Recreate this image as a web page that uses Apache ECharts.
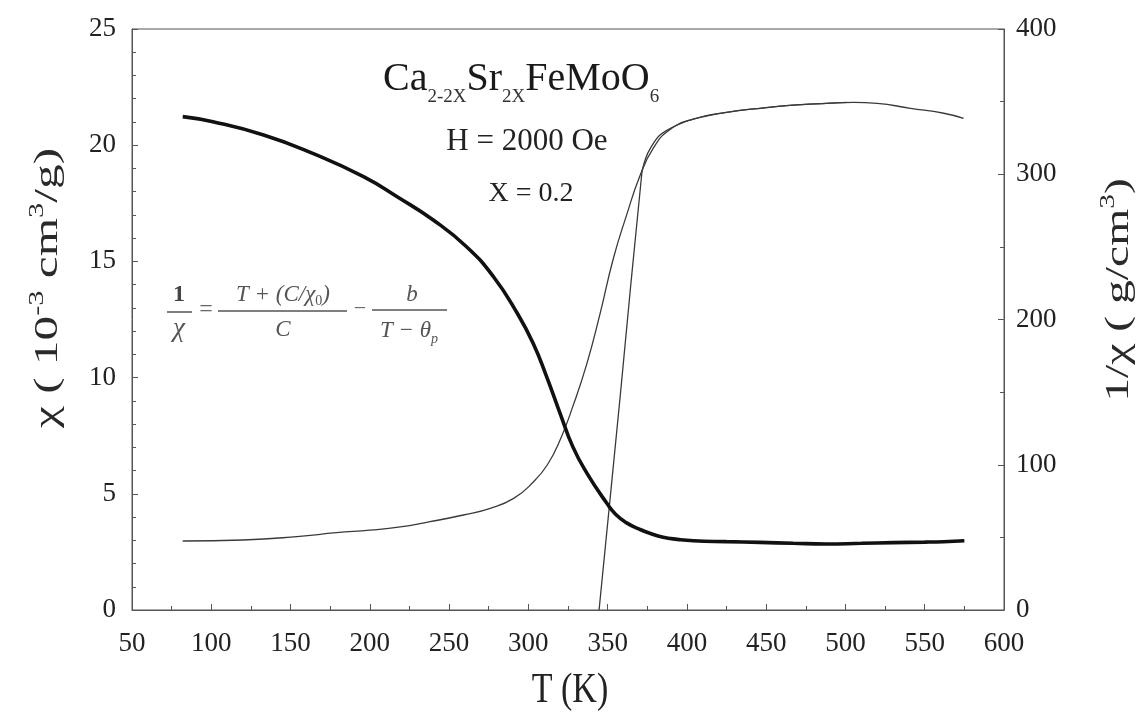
<!DOCTYPE html>
<html>
<head>
<meta charset="utf-8">
<title>Ca2-2XSr2XFeMoO6 susceptibility</title>
<script src="https://cdn.jsdelivr.net/npm/echarts@6/dist/echarts.min.js"></script>
<style>
  html, body { margin: 0; padding: 0; background: #ffffff; }
  #chart { width: 1143px; height: 721px; }
</style>
</head>
<body>
<div id="chart"></div>
<script>
// Temperature sweep (K) and measured susceptibility chi (10^-3 cm^3/g)
const tChi = [82, 101, 133, 164, 196, 218, 240, 261, 278, 293, 303, 311.5, 320, 328, 337, 349.5, 355, 362, 370, 377, 385, 394, 404, 425, 446, 467, 488, 510, 530, 550, 562, 575];
const chi  = [21.23, 21.01, 20.44, 19.65, 18.65, 17.75, 16.78, 15.63, 14.34, 12.77, 11.48, 10.04, 8.46, 7.03, 5.88, 4.59, 4.12, 3.75, 3.48, 3.29, 3.13, 3.04, 2.98, 2.94, 2.91, 2.87, 2.84, 2.87, 2.90, 2.92, 2.94, 2.98];

// Inverse susceptibility 1/chi (g/cm^3)
const tInv   = [82, 120, 154, 179, 200, 218, 238, 259, 276, 291, 303, 312, 320, 328, 337, 345, 353.6, 362, 370.4, 378.8, 389, 404, 425, 446, 467, 488, 505, 520, 541, 562, 574.5];
const invChi = [47.5, 48.2, 50.5, 53.2, 55, 57, 60.8, 65.4, 70, 77, 88, 100, 117, 140, 170, 203, 242, 272, 299, 318, 330.5, 338, 342.6, 345.4, 347.6, 348.8, 349.5, 348.8, 345.4, 342, 338.5];

// Fitted curve of 1/chi (ferrimagnetic hyperbola)
const tFit = [344.6, 358, 371.5, 374, 377, 383, 394, 404, 425, 446, 467, 488, 501];
const fit  = [0, 148, 300, 311, 318, 327, 334, 338, 342.6, 345.4, 347.6, 348.8, 349.5];

// Axis tick values
const xTicks = [50, 100, 150, 200, 250, 300, 350, 400, 450, 500, 550, 600];
const yLeftTicks = [0, 5, 10, 15, 20, 25];
const yRightTicks = [0, 100, 200, 300, 400];

const SERIF = '"Liberation Serif", "Times New Roman", serif';
const AXIS = '#555555';
const TEXT = '#222222';

const pairs = (xs, ys) => xs.map((x, i) => [x, ys[i]]);

// ---- small typesetting helper: a row of text pieces sharing one baseline ----
const measureCtx = document.createElement('canvas').getContext('2d');
function fontOf(p) {
  return (p.italic ? 'italic ' : '') + (p.bold ? 'bold ' : '') + p.size + 'px ' + SERIF;
}
// pieces: {t, size, italic, bold, dy, fill}; returns graphic children laid out
// around (0,0) horizontally (align: 'left' | 'center') with baseline at y = 0.
function typeset(pieces, align, defFill) {
  const widths = pieces.map(p => { measureCtx.font = fontOf(p); return measureCtx.measureText(p.t).width; });
  const total = widths.reduce((a, b) => a + b, 0);
  let x = align === 'center' ? -total / 2 : 0;
  return pieces.map((p, i) => {
    const el = {
      type: 'text', x: x, y: (p.dy || 0) - 0.305 * p.size,
      style: { text: p.t, font: fontOf(p), fill: p.fill || defFill, align: 'left', verticalAlign: 'middle' }
    };
    x += widths[i];
    return el;
  });
}
function row(x, baseline, pieces, align, fill, extra) {
  return Object.assign({ type: 'group', x: x, y: baseline, z: 10, children: typeset(pieces, align, fill) }, extra || {});
}

const chart = echarts.init(document.getElementById('chart'), null, { renderer: 'canvas' });
const tickStyle = { color: AXIS, width: 1 };

const option = {
  backgroundColor: '#ffffff',
  animation: false,
  grid: {
    left: 132, right: 139, top: 29, bottom: 111,
    show: true, borderColor: AXIS, borderWidth: 1, backgroundColor: 'transparent'
  },
  xAxis: {
    type: 'value',
    min: xTicks[0], max: xTicks[xTicks.length - 1], interval: xTicks[1] - xTicks[0],
    axisLine: { show: true, lineStyle: { color: AXIS } },
    axisTick: { show: true, inside: true, length: 6, lineStyle: tickStyle },
    minorTick: { show: true, splitNumber: 2, length: 4, lineStyle: tickStyle },
    splitLine: { show: false },
    axisLabel: { color: TEXT, fontFamily: SERIF, fontSize: 27, margin: 20 }
  },
  yAxis: [
    {
      type: 'value', position: 'left',
      min: yLeftTicks[0], max: yLeftTicks[yLeftTicks.length - 1], interval: yLeftTicks[1] - yLeftTicks[0],
      axisLine: { show: true, lineStyle: { color: AXIS } },
      axisTick: { show: true, inside: true, length: 6, lineStyle: tickStyle },
      minorTick: { show: true, splitNumber: 5, length: 4, lineStyle: tickStyle },
      splitLine: { show: false },
      axisLabel: { color: TEXT, fontFamily: SERIF, fontSize: 27, margin: 16 }
    },
    {
      type: 'value', position: 'right',
      min: yRightTicks[0], max: yRightTicks[yRightTicks.length - 1], interval: yRightTicks[1] - yRightTicks[0],
      axisLine: { show: true, lineStyle: { color: AXIS } },
      axisTick: { show: true, inside: true, length: 6, lineStyle: tickStyle },
      minorTick: { show: true, splitNumber: 2, length: 4, lineStyle: tickStyle },
      splitLine: { show: false },
      axisLabel: { color: TEXT, fontFamily: SERIF, fontSize: 27, margin: 12 }
    }
  ],
  series: [
    {
      name: '1/chi', type: 'line', yAxisIndex: 1, data: pairs(tInv, invChi),
      showSymbol: false, smooth: 0.5,
      lineStyle: { color: '#3a3a3a', width: 1.3 }, z: 2
    },
    {
      name: 'fit', type: 'line', yAxisIndex: 1, data: pairs(tFit, fit),
      showSymbol: false, smooth: 0.3,
      lineStyle: { color: '#3a3a3a', width: 1.3 }, z: 2
    },
    {
      name: 'chi', type: 'line', yAxisIndex: 0, data: pairs(tChi, chi),
      showSymbol: false, smooth: 0.5,
      lineStyle: { color: '#111111', width: 3.6 }, z: 3
    }
  ],
  graphic: [
    // axis titles
    row(570, 704, [{ t: 'T (K)', size: 34 }], 'center', TEXT, { scaleY: 1.25 }),
    row(58, 288, [
      { t: 'χ ( 10', size: 34 }, { t: '-3', size: 21, dy: -14 },
      { t: ' cm', size: 34 }, { t: '3', size: 21, dy: -14 }, { t: '/g)', size: 34 }
    ], 'center', '#2a2a2a', { rotation: Math.PI / 2, scaleX: 1.45 }),
    row(1129, 290, [
      { t: '1/χ ( g/cm', size: 34 }, { t: '3', size: 21, dy: -14 }, { t: ')', size: 34 }
    ], 'center', '#2a2a2a', { rotation: Math.PI / 2, scaleX: 1.4 }),

    // compound formula
    row(383, 92, [
      { t: 'Ca', size: 40 }, { t: '2-2X', size: 19, dy: 11, fill: '#333' },
      { t: 'Sr', size: 40 }, { t: '2X', size: 19, dy: 11, fill: '#333' },
      { t: 'FeMoO', size: 40 }, { t: '6', size: 19, dy: 11, fill: '#333' }
    ], 'left', '#1a1a1a'),
    row(527, 151, [{ t: 'H = 2000 Oe', size: 31 }], 'center', TEXT),
    row(531, 202, [{ t: 'X = 0.2', size: 28 }], 'center', TEXT),

    // Curie-Weiss ferrimagnet expression
    row(179, 302, [{ t: '1', size: 24, bold: true }], 'center', '#444'),
    { type: 'line', z: 10, shape: { x1: 167, y1: 312, x2: 192, y2: 312 }, style: { stroke: '#555', lineWidth: 1.5 } },
    row(179, 337, [{ t: 'χ', size: 27, italic: true }], 'center', '#555'),
    row(206, 317, [{ t: '=', size: 24 }], 'center', '#666'),
    row(283, 302, [
      { t: 'T + (C/χ', size: 23, italic: true }, { t: '0', size: 14, dy: 4 }, { t: ')', size: 23, italic: true }
    ], 'center', '#555'),
    { type: 'line', z: 10, shape: { x1: 218, y1: 311, x2: 347, y2: 311 }, style: { stroke: '#555', lineWidth: 1.5 } },
    row(283, 337, [{ t: 'C', size: 23, italic: true }], 'center', '#555'),
    row(360, 316, [{ t: '−', size: 22 }], 'center', '#666'),
    row(412, 302, [{ t: 'b', size: 23, italic: true }], 'center', '#555'),
    { type: 'line', z: 10, shape: { x1: 372, y1: 310, x2: 447, y2: 310 }, style: { stroke: '#555', lineWidth: 1.5 } },
    row(409, 338, [
      { t: 'T − θ', size: 23, italic: true }, { t: 'p', size: 14, italic: true, dy: 6 }
    ], 'center', '#555')
  ]
};

chart.setOption(option);
</script>
</body>
</html>
